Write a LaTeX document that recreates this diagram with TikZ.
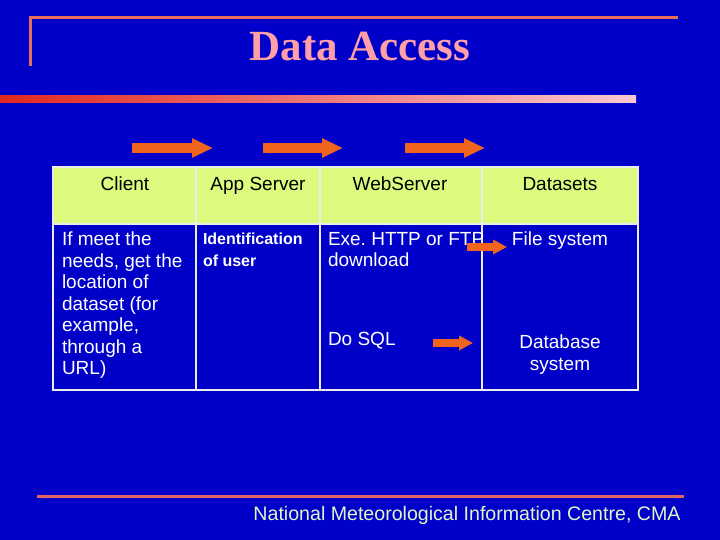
\documentclass[tikz,border=0pt]{standalone}
\usepackage{fontspec}
\setmainfont{Liberation Sans}
\newfontfamily\titlefont{Liberation Serif}
\usetikzlibrary{arrows.meta}
\frenchspacing

\definecolor{slideblue}{RGB}{0,0,200}
\definecolor{framered}{RGB}{230,110,90}
\definecolor{footred}{RGB}{225,100,100}
\definecolor{arrowred}{RGB}{240,100,30}
\definecolor{headgreen}{RGB}{220,250,125}
\definecolor{titlepink}{RGB}{255,160,168}
\definecolor{footgreen}{RGB}{225,245,200}
\definecolor{barleft}{RGB}{225,40,30}
\definecolor{barright}{RGB}{250,200,210}

\begin{document}
\begin{tikzpicture}[x=1pt,y=-1pt,
	bigarrow/.style={draw=arrowred,line width=10pt,-{Triangle[length=21pt,width=18pt]}},
	smallarrow/.style={draw=arrowred,line width=8pt,-{Triangle[length=14pt,width=14pt]}},
	grid/.style={draw={rgb,255:red,235;green,235;blue,235},line width=2pt},
	headtext/.style={inner sep=0,outer sep=0,anchor=base,text=black,font=\fontsize{19}{21.5}\selectfont},
	celltext/.style={inner sep=0,outer sep=0,text=white,font=\fontsize{19}{21.5}\selectfont}]
	\fill[slideblue] (0,0) rectangle (720,540);
	\useasboundingbox (0,0) rectangle (720,540);
	% title frame and bar
	\draw[framered,line width=3pt] (30,66) -- (30,18) -- (678,18);
	\node[inner sep=0,anchor=base,text=titlepink,font=\titlefont\bfseries\fontsize{43}{43}\selectfont] (title) at (360,61) {Data Access};
	\shade[left color=barleft,right color=barright] (0,96) rectangle (636,103);
	% arrows along the header
	\coordinate (a1) at (132,148);
	\coordinate (b1) at (213,148);
	\coordinate (a2) at (263,148);
	\coordinate (b2) at (343,148);
	\coordinate (a3) at (405,148);
	\coordinate (b3) at (485,148);
	\draw[bigarrow] (a1) -- (b1);
	\draw[bigarrow] (a2) -- (b2);
	\draw[bigarrow] (a3) -- (b3);
	% table
	\fill[headgreen] (53,167) rectangle (638,224);
	\draw[grid] (53,167) rectangle (638,390);
	\draw[grid] (53,224) -- (638,224);
	\draw[grid] (196,167) -- (196,390);
	\draw[grid] (320,167) -- (320,390);
	\draw[grid] (482,167) -- (482,390);
	\node[headtext] (client) at (125,191) {Client};
	\node[headtext] (app) at (258,191) {App Server};
	\node[headtext] (web) at (400,191) {WebServer};
	\node[headtext] (data) at (560,191) {Datasets};
	\node[celltext,anchor=north west,align=left] (need) at (62,232) {If meet the\\needs, get the\\location of\\dataset (for\\example,\\through a\\URL)};
	\node[celltext,anchor=north west,align=left,font=\bfseries\fontsize{16}{22}\selectfont] (ident) at (203,233) {Identification\\of user};
	\node[celltext,anchor=north west,align=left] (http) at (328,232) {Exe. HTTP or FTP\\download};
	\node[celltext,anchor=north west,align=left] (sql) at (328,332) {Do SQL};
	\node[celltext,anchor=north,align=center] (file) at (560,232) {File system};
	\node[celltext,anchor=north,align=center] (dbase) at (560,335) {Database\\system};
	\coordinate (a4) at (467,247);
	\coordinate (b4) at (507,247);
	\coordinate (a5) at (433,343);
	\coordinate (b5) at (473,343);
	\draw[smallarrow] (a4) -- (b4);
	\draw[smallarrow] (a5) -- (b5);
	% footer
	\draw[footred,line width=3pt] (37,496) -- (684,496);
	\node[inner sep=0,anchor=base,text=footgreen,font=\fontsize{19.6}{19.6}\selectfont] (foot) at (467,520) {National Meteorological Information Centre, CMA};
\end{tikzpicture}
\end{document}
